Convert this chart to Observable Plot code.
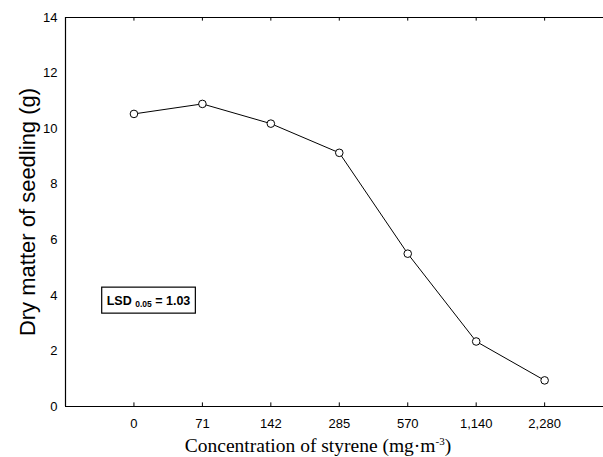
<!DOCTYPE html>
<html>
<head>
<meta charset="utf-8">
<script src="https://cdn.jsdelivr.net/npm/d3@7"></script>
<script src="https://cdn.jsdelivr.net/npm/@observablehq/plot@0.6"></script>
<style>
  html, body { margin: 0; padding: 0; background: #fff; }
  #chart svg { display: block; }
</style>
</head>
<body>
<div id="chart"></div>
<script>
const categories = ["0", "71", "142", "285", "570", "1,140", "2,280"];
const dryMatter = [10.53, 10.89, 10.18, 9.13, 5.5, 2.34, 0.94];
const yTicks = [0, 2, 4, 6, 8, 10, 12, 14];
const lsdLabel = { main: "LSD", sub: "0.05", rest: " = 1.03", yValue: 3.81, xIndex: 0.22 };

const data = categories.map((c, i) => ({ i, c, v: dryMatter[i] }));
const tickIdx = categories.map((_, i) => i);

const plot = Plot.plot({
  width: 603,
  height: 457,
  marginTop: 17,
  marginBottom: 51,
  marginLeft: 65,
  marginRight: 0,
  style: { fontFamily: "Liberation Sans, Arial, sans-serif", fontSize: "13px", color: "#000", background: "#fff" },
  x: { domain: [-1, 6.86], range: [65, 603] },
  y: { domain: [0, 14] },
  marks: [
    Plot.axisY({ ticks: yTicks, tickSize: 0, tickPadding: 8, label: null, fontSize: 13 }),
    Plot.axisX({ ticks: tickIdx, tickFormat: i => categories[i], tickSize: 0, tickPadding: 12, label: null, fontSize: 13 }),
    Plot.ruleX(tickIdx, { x: d => d, y1: 0, y2: 0.13, stroke: "#000", strokeWidth: 1 }),
    Plot.ruleX(tickIdx, { x: d => d, y1: 14, y2: 13.87, stroke: "#000", strokeWidth: 1 }),
    Plot.ruleY([0, 14], { stroke: "#000", strokeWidth: 1.2 }),
    Plot.ruleX([-1], { stroke: "#000", strokeWidth: 1.2 }),
    Plot.line(data, { x: "i", y: "v", stroke: "#000", strokeWidth: 1 }),
    Plot.dot(data, { x: "i", y: "v", r: 3.8, fill: "#fff", stroke: "#000", strokeWidth: 1 }),
    Plot.text(["Dry matter of seedling (g)"], {
      frameAnchor: "left", textAnchor: "middle", dx: -38, rotate: -90, fontSize: 22,
      fontFamily: "Liberation Sans, Arial, sans-serif", fill: "#000"
    })
  ]
});

document.getElementById("chart").appendChild(plot);

const svg = d3.select(plot);
const xs = plot.scale("x"), ys = plot.scale("y");

// x-axis title (serif) with superscript
const xt = svg.append("text")
  .attr("x", 318)
  .attr("y", 452)
  .attr("text-anchor", "middle")
  .attr("font-family", "Liberation Serif, Times New Roman, serif")
  .attr("font-size", 19.5)
  .attr("fill", "#000");
xt.append("tspan").text("Concentration of styrene (mg·m");
xt.append("tspan").attr("dy", -7).attr("font-size", 11).text("-3");
xt.append("tspan").attr("dy", 7).text(")");

// LSD annotation box
const cx = xs.apply(lsdLabel.xIndex), cy = ys.apply(lsdLabel.yValue);
const g = svg.append("g");
const t = g.append("text")
  .attr("x", cx).attr("y", cy + 4.5)
  .attr("text-anchor", "middle")
  .attr("font-family", "Liberation Sans, Arial, sans-serif")
  .attr("font-weight", "bold")
  .attr("font-size", 12.5)
  .attr("fill", "#000")
  .attr("xml:space", "preserve")
  .style("white-space", "pre");
t.append("tspan").text(lsdLabel.main + " ");
t.append("tspan").attr("font-size", 8.5).attr("dy", 2).text(lsdLabel.sub);
t.append("tspan").attr("dy", -2).text(lsdLabel.rest);
const bb = t.node().getBBox();
g.insert("rect", "text")
  .attr("x", bb.x - 5).attr("y", cy - 13)
  .attr("width", bb.width + 10).attr("height", 26)
  .attr("fill", "#fff").attr("stroke", "#000").attr("stroke-width", 1.2);
</script>
</body>
</html>
